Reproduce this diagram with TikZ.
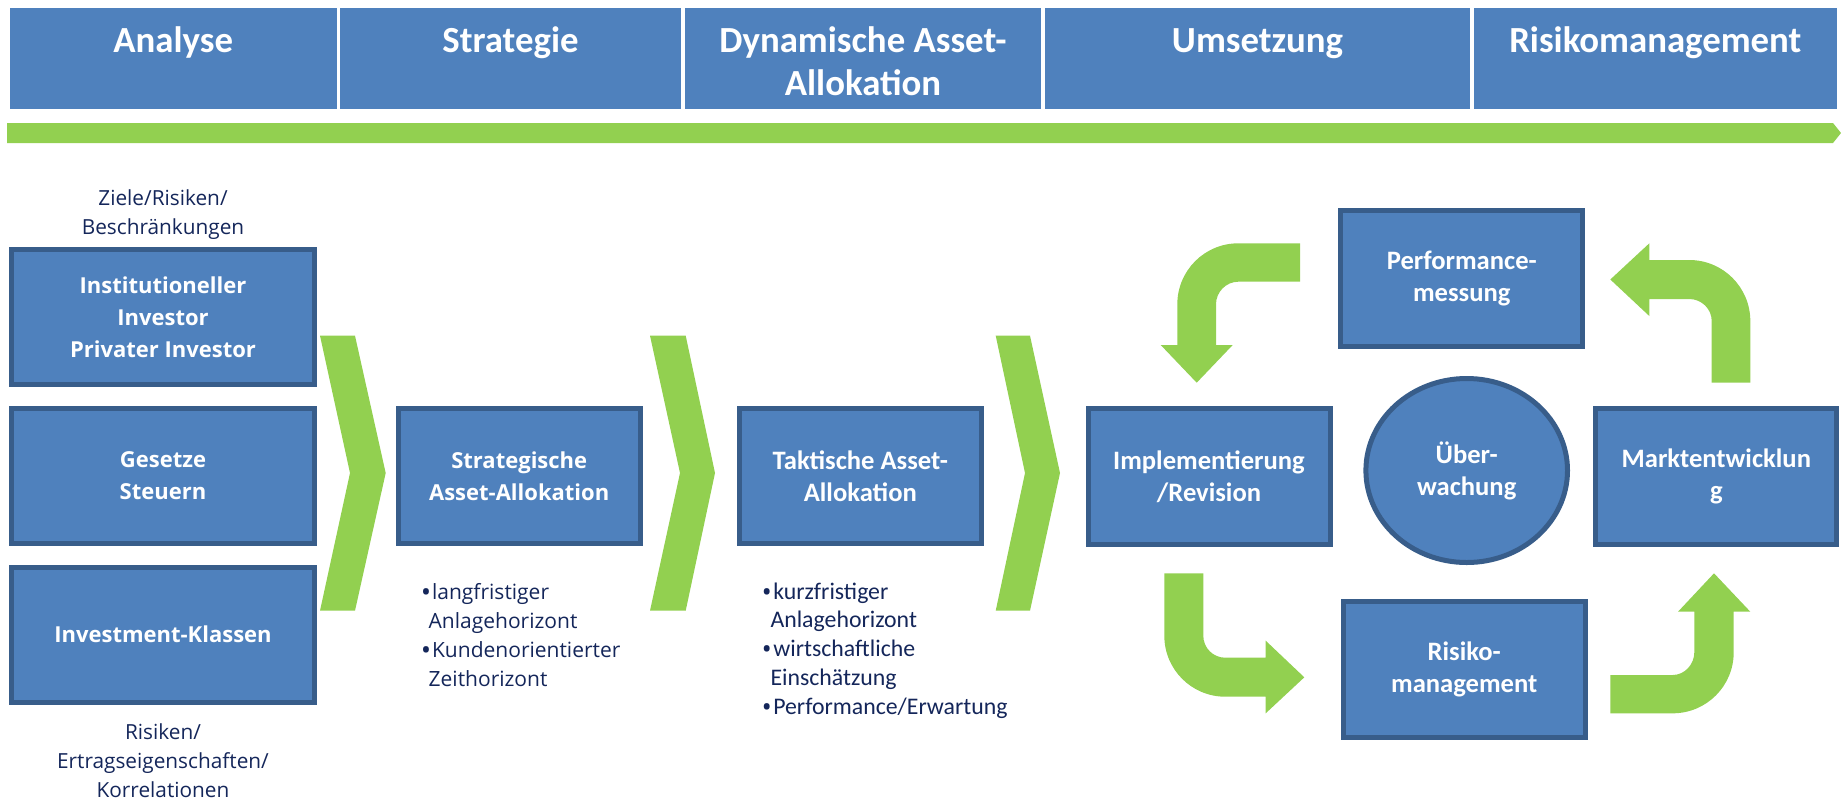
\documentclass[tikz,border=0pt]{standalone}
\usepackage{fontspec}
\setmainfont{Carlito}
\newfontfamily\osans{Open Sans}
\newfontfamily\calib{Carlito}
\usetikzlibrary{shapes.geometric}
\definecolor{boxblue}{HTML}{4F81BD}
\definecolor{boxline}{HTML}{385D8A}
\definecolor{arrgreen}{HTML}{92D050}
\definecolor{textnavy}{HTML}{14265A}
\newcommand\bulletmark[1]{\makebox[#1][l]{\osans\bfseries\fontsize{10.5pt}{14.5pt}\selectfont •}}
\begin{document}
\begin{tikzpicture}[x=0.5pt,y=-0.5pt,
  hdr/.style={rectangle, fill=boxblue, draw=white, line width=0.6pt, minimum height=51.5pt, inner sep=0pt},
  hdrtxt/.style={text=white, inner sep=0pt, font=\calib\bfseries\fontsize{18.4pt}{21.7pt}\selectfont},
  blk/.style={rectangle, fill=boxblue, draw=boxline, line width=2.5pt, inner sep=0pt, align=center, text=white},
  osb/.style={font=\osans\bfseries\fontsize{11pt}{16pt}\selectfont},
  clb/.style={font=\calib\bfseries\fontsize{13.3pt}{16pt}\selectfont},
  wbox/.style={minimum width=121pt, minimum height=67.75pt},
  lbox/.style={minimum width=151.5pt, minimum height=67.5pt},
  lbl/.style={text=textnavy, inner sep=0pt},
  oslbl/.style={font=\osans\fontsize{10.4pt}{14.5pt}\selectfont},
  clbl/.style={font=\calib\fontsize{11.9pt}{14.4pt}\selectfont},
  shape green/.style={fill=arrgreen}
]
\useasboundingbox (0,0) rectangle (1841,799);

% header
\node[hdr, minimum width=164.3pt] (hA) at (173.2,58.5) {};
\node[hdr, minimum width=171.5pt] (hS) at (510.5,58.5) {};
\node[hdr, minimum width=179pt] (hD) at (863,58.5) {};
\node[hdr, minimum width=213.5pt] (hU) at (1257.5,58.5) {};
\node[hdr, minimum width=182.25pt] (hR) at (1655.3,58.5) {};
\node[hdrtxt, anchor=base] (tA) at (173.2,52) {Analyse};
\node[hdrtxt, anchor=base] (tS) at (510.5,52) {Strategie};
\node[hdrtxt, anchor=base] (tD) at (863,52) {\begin{tabular}[t]{@{}c@{}}Dynamische Asset-\\Allokation\end{tabular}};
\node[hdrtxt, anchor=base] (tU) at (1257.5,52) {Umsetzung};
\node[hdrtxt, anchor=base] (tR) at (1655.3,52) {Risikomanagement};

% green timeline bar
\fill[shape green] (7,123) -- (1833,123) -- (1841,133) -- (1833,143) -- (7,143) -- cycle;

% left column
\node[lbl, oslbl, anchor=base] (ziele) at (163,205.7) {\begin{tabular}[t]{@{}c@{}}Ziele/Risiken/\\Beschränkungen\end{tabular}};
\node[blk, osb, lbox] (inv) at (163,317) {Institutioneller\\Investor\\Privater Investor};
\node[blk, osb, lbox] (ges) at (163,476) {Gesetze\\Steuern};
\node[blk, osb, lbox] (ikl) at (163,634.7) {Investment-Klassen};
\node[lbl, oslbl, anchor=base] (ertr) at (163,739.5) {\begin{tabular}[t]{@{}c@{}}Risiken/\\Ertragseigenschaften/\\Korrelationen\end{tabular}};

% chevrons
\fill[shape green] (320,335.7) -- (355,335.7) -- (385.7,473) -- (355,610.7) -- (320,610.7) -- (350,473) -- cycle;
\fill[shape green] (650,335.7) -- (685.7,335.7) -- (715,473) -- (685.7,610.7) -- (650,610.7) -- (680,473) -- cycle;
\fill[shape green] (995.7,335.7) -- (1030,335.7) -- (1060,473) -- (1030,610.7) -- (995.7,610.7) -- (1025,473) -- cycle;

% strategic / tactical
\node[blk, osb, wbox] (saa) at (519.2,476) {Strategische\\Asset-Allokation};
\node[lbl, oslbl, font=\osans\fontsize{10.5pt}{14.5pt}\selectfont, anchor=base west] (sbul) at (421.7,599)
  {\begin{tabular}[t]{@{}l@{}}\bulletmark{5pt}langfristiger\\\hspace*{3.3pt}Anlagehorizont\\\bulletmark{5pt}Kundenorientierter\\\hspace*{3.3pt}Zeithorizont\end{tabular}};
\node[blk, clb, wbox] (taa) at (860.3,476) {Taktische Asset-\\Allokation};
\node[lbl, clbl, anchor=base west] (tbul) at (762.5,599)
  {\begin{tabular}[t]{@{}l@{}}\bulletmark{5.2pt}kurzfristiger\\\hspace*{3.8pt}Anlagehorizont\\\bulletmark{5.2pt}wirtschaftliche\\\hspace*{3.8pt}Einschätzung\\\bulletmark{5.2pt}Performance/Erwartung\end{tabular}};

% cycle
\node[blk, clb, wbox] (impl) at (1209,476.3) {Implementierung\\/Revision};
\node[blk, clb, wbox] (perf) at (1461.8,278.3) {Performance-\\messung};
\node[blk, clb, wbox, minimum width=120.5pt] (markt) at (1716.3,476.3) {Marktentwicklun\\g};
\node[blk, clb, wbox] (risk) at (1464.2,669.3) {Risiko-\\management};
\node[blk, clb, ellipse, minimum width=100.8pt, minimum height=92pt] (ueb) at (1466.7,470.5) {Über-\\wachung};

% curved block arrows
\fill[shape green] (1300,243.3) -- (1238.3,243.3) .. controls (1204.6,243.3) and (1177.3,270.6) .. (1177.3,304.3)
  -- (1177.3,345) -- (1160.7,345) -- (1196.7,382.7) -- (1232.7,345) -- (1216,345) -- (1216,304.3)
  .. controls (1216,292) and (1226,281.7) .. (1238.3,281.7) -- (1300,281.7) -- cycle;
\fill[shape green] (1711.7,382.7) -- (1750.3,382.7) -- (1750.3,321) .. controls (1750.3,287.3) and (1723,260) .. (1689.3,260)
  -- (1649.3,260) -- (1649.3,243.3) -- (1610.3,279.5) -- (1649.3,316) -- (1649.3,299) -- (1689.3,299)
  .. controls (1701.6,299) and (1711.7,309) .. (1711.7,321) -- cycle;
\fill[shape green] (1164.3,573.3) -- (1203.3,573.3) -- (1203.3,635.7) .. controls (1203.3,647.9) and (1213.1,657.7) .. (1225.3,657.7)
  -- (1265.7,657.7) -- (1265.7,640.7) -- (1304.3,677.3) -- (1265.7,713.3) -- (1265.7,696.7) -- (1225.3,696.7)
  .. controls (1191.6,696.7) and (1164.3,669.4) .. (1164.3,635.7) -- cycle;
\fill[shape green] (1610.3,675) -- (1672.7,675) .. controls (1684.6,675) and (1694.3,664.4) .. (1694.3,652.3)
  -- (1694.3,611.7) -- (1678,611.7) -- (1714,573.3) -- (1750.3,611.7) -- (1733.7,611.7) -- (1733.7,652.3)
  .. controls (1733.7,686) and (1706.4,713.3) .. (1672.7,713.3) -- (1610.3,713.3) -- cycle;
\end{tikzpicture}
\end{document}
